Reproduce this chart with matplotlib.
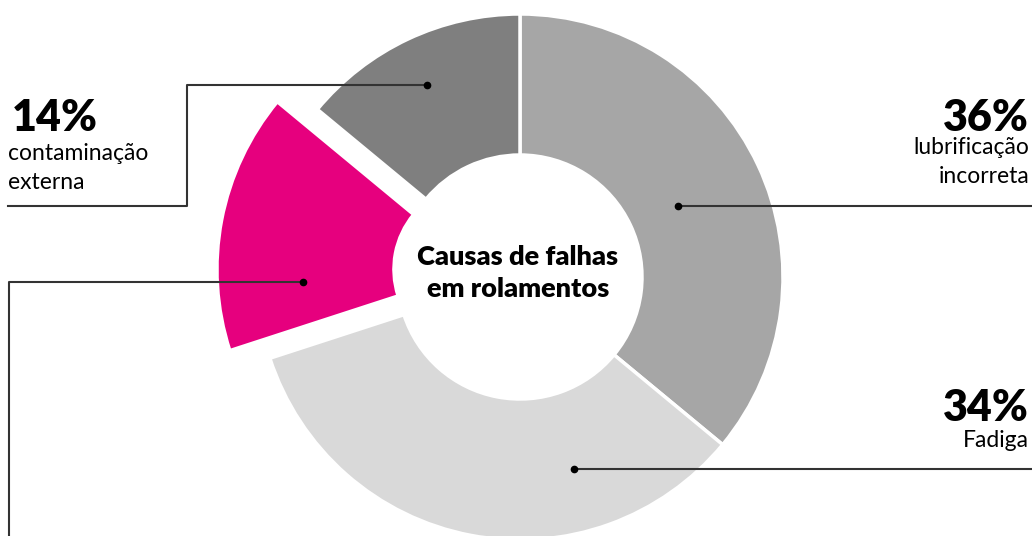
import matplotlib.pyplot as plt

# dados do grafico
causas = ['lubrificação\nincorreta', 'Fadiga', 'outras', 'contaminação\nexterna']
percentuais = [36, 34, 16, 14]
cores = ['#a6a6a6', '#d9d9d9', '#e6007e', '#7f7f7f']
destaque = [0, 0, 0.155, 0]  # fracao do raio

W, H = 1032, 536
cx, cy = 520, H - 277  # centro da rosca (y para cima)
R = 263
R_int = 122
R_int_destaque = 86  # fatia rosa e mais grossa

plt.rcParams['font.family'] = ['Lato', 'DejaVu Sans']

fig = plt.figure(figsize=(W / 100, H / 100), dpi=100)
ax = fig.add_axes([0, 0, 1, 1])

# no pie o explode fica em unidades de dados, entao multiplica pelo raio
wedges, _ = ax.pie(percentuais, colors=cores, startangle=90, counterclock=False,
                   explode=[d * R for d in destaque], center=(cx, cy), radius=R,
                   wedgeprops=dict(width=R - R_int, edgecolor='white', linewidth=2.5))
wedges[2].set_width(R - R_int_destaque)

ax.set_xlim(0, W)
ax.set_ylim(0, H)
ax.set_aspect('equal')
ax.axis('off')


def y(v):
    # converte y de cima para baixo
    return H - v


cor_linha = '#333333'

# linhas de chamada
ax.plot([678, W], [y(206), y(206)], color=cor_linha, lw=1.5)
ax.plot([678], [y(206)], 'o', color='black', ms=4.5)

ax.plot([574, W], [y(469), y(469)], color=cor_linha, lw=1.5)
ax.plot([574], [y(469)], 'o', color='black', ms=4.5)

ax.plot([427, 187, 187, 8], [y(85), y(85), y(206), y(206)], color=cor_linha, lw=1.5)
ax.plot([427], [y(85)], 'o', color='black', ms=4.5)

ax.plot([303, 9, 9], [y(282), y(282), y(H + 5)], color=cor_linha, lw=1.5)
ax.plot([303], [y(282)], 'o', color='black', ms=4.5)

# textos
tam_pct = 31
tam_txt = 16.5
ax.text(1029, y(131), f'{percentuais[0]}%', ha='right', va='baseline',
        fontsize=tam_pct, fontweight='heavy')
ax.text(1029, y(154), 'lubrificação', ha='right', va='baseline', fontsize=tam_txt)
ax.text(1029, y(183), 'incorreta', ha='right', va='baseline', fontsize=tam_txt)

ax.text(1029, y(421), f'{percentuais[1]}%', ha='right', va='baseline',
        fontsize=tam_pct, fontweight='heavy')
ax.text(1029, y(447), 'Fadiga', ha='right', va='baseline', fontsize=tam_txt)

ax.text(12, y(131), f'{percentuais[3]}%', ha='left', va='baseline',
        fontsize=tam_pct, fontweight='heavy')
ax.text(8, y(160), 'contaminação', ha='left', va='baseline', fontsize=tam_txt)
ax.text(8, y(189), 'externa', ha='left', va='baseline', fontsize=tam_txt)

ax.text(cx - 2, y(257), 'Causas de falhas', ha='center', va='center',
        fontsize=19.5, fontweight='heavy')
ax.text(cx - 2, y(289), 'em rolamentos', ha='center', va='center',
        fontsize=19.5, fontweight='heavy')

fig.savefig('out.png', dpi=100)
